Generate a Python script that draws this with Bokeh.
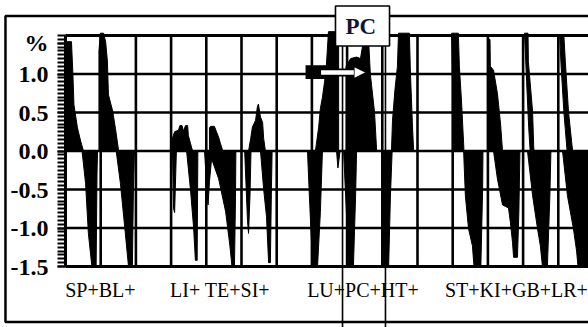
import numpy as np
from bokeh.plotting import figure
from bokeh.models import (Range1d, FixedTicker, LinearAxis, Label, Arrow, NormalHead)
from bokeh.embed import file_html
from bokeh.resources import INLINE

# ---------------- data ----------------
group_labels = ["SP+BL+", "LI+ TE+SI+", "LU+PC+HT+", "ST+KI+GB+LR+"]
group_centers = [9.9, 43.9, 84.5, 128.1]

y_ticks = [-1.5, -1.0, -0.5, 0.0, 0.5, 1.0, 1.4]
y_tick_labels = ["-1.5", "-1.0", "-0.5", "0.0", "0.5", "1.0", "%"]

grid_x = [10, 20, 30, 40, 50, 60, 70, 80, 90, 100, 110, 120, 130, 140]
grid_y = [-1.0, -0.5, 0.0, 0.5, 1.0]

# waveform lobes: outline points (x, %)
SP_pos = [(0.2, 0), (0.2, 1.42), (1.7, 1.42), (2.1, 1.0), (2.4, 0.6), (3.4, 0.3), (4.3, 0.13), (5.1, 0)]
SP_neg = [(4.7, 0), (5.7, -0.42), (6.5, -1.07), (7.5, -1.5), (8.7, -1.5), (8.95, -0.3), (9.1, 0)]
BL_pos = [(9.5, 0), (9.5, 1.3), (9.9, 1.53), (10.8, 1.53), (11.4, 1.42), (11.9, 1.17), (12.2, 0.73),
          (13.4, 0.52), (14.2, 0.29), (15.1, 0)]
BL_neg = [(14.4, 0), (15.6, -0.42), (17.0, -1.07), (17.9, -1.5), (19.0, -1.5), (19.3, -0.5), (19.6, 0)]

LI_pos = [(30.4, 0), (30.4, 0.17), (31.0, 0.25), (32.1, 0.27), (32.5, 0.33), (33.1, 0.33), (33.5, 0.26),
          (34.1, 0.33), (34.7, 0.33), (34.9, 0.2), (35.5, 0.1), (36.1, 0)]
LI_neg1 = [(30.4, 0), (30.7, -0.75), (31.0, -0.8), (31.5, 0)]
LI_neg = [(34.4, 0), (35.5, -0.5), (36.4, -1.0), (36.9, -1.42), (37.4, -1.42), (37.6, 0)]

TE_pos = [(40.9, 0), (40.9, 0.3), (41.2, 0.32), (42.3, 0.32), (42.9, 0.25), (43.5, 0.18), (44.0, 0.1), (44.7, 0)]
TE_neg = [(39.5, 0), (40.1, -0.45), (40.5, -0.7), (40.9, -0.4), (41.5, -0.1), (43.5, -0.36), (45.5, -0.79),
          (46.7, -1.23), (47.3, -1.5), (48.0, -1.5), (48.3, -0.6), (48.4, 0)]

SI_pos = [(52.0, 0), (52.6, 0.16), (53.1, 0.31), (54.0, 0.4), (54.5, 0.57), (54.8, 0.61), (55.4, 0.44),
          (56.0, 0.37), (56.3, 0.16), (56.8, 0)]
SI_neg1 = [(50.9, 0), (51.7, -0.9), (52.0, -1.07), (52.4, -0.6), (52.7, 0)]
SI_neg = [(55.4, 0), (56.3, -0.5), (57.1, -0.85), (57.7, -1.45), (58.2, -1.45), (58.5, -0.5), (58.7, 0)]

LU_pos = [(71.0, 0), (71.9, 0.3), (72.4, 0.55), (73.0, 0.7), (73.6, 0.9), (74.1, 1.1), (74.7, 1.55),
          (77.6, 1.55), (77.6, 0)]
LU_neg = [(68.75, 0), (69.3, -0.6), (70.2, -1.5), (71.6, -1.5), (72.4, -0.8), (73.0, 0)]
LU_neg2 = [(77.0, 0), (77.4, -0.22), (78.0, 0)]

PC_pos = [(79.7, 0), (79.7, 1.1), (81.0, 1.2), (82.7, 1.22), (83.8, 1.2), (84.7, 1.45), (86.1, 1.45),
          (86.6, 1.0), (87.8, 0.5), (88.4, 0)]
PC_neg = [(79.0, 0), (79.8, -0.8), (80.4, -1.5), (81.8, -1.5), (82.4, -0.6), (82.7, 0)]

HT_pos = [(92.6, 0), (92.9, 0.4), (93.6, 0.8), (94.3, 1.1), (94.6, 1.53), (97.7, 1.53), (98.0, 1.0),
          (98.6, 0.3), (98.9, 0)]
HT_neg = [(89.8, 0), (90.1, -0.8), (90.3, -1.5), (91.8, -1.5), (92.3, -0.6), (92.8, 0)]

ST_pos = [(110.3, 0), (109.7, 1.53), (111.6, 1.53), (111.9, 1.1), (112.5, 0.65), (113.1, 0.1), (113.2, 0)]
ST_neg = [(113.1, 0), (113.6, -0.58), (114.5, -1.01), (115.6, -1.23), (116.05, -1.5), (118.0, -1.5),
          (118.5, -0.5), (118.6, 0)]

KI_pos = [(120.1, 0), (120.1, 1.45), (120.6, 1.45), (120.7, 1.1), (121.6, 1.05), (122.7, 0.75),
          (123.6, 0.35), (124.15, 0)]
KI_neg = [(121.6, 0), (122.7, -0.36), (124.15, -0.7), (125.0, -0.72), (125.85, -0.74), (126.4, -0.93),
          (127.0, -1.19), (127.3, -1.38), (128.4, -1.38), (128.8, -0.8), (129.1, 0)]

GB_pos = [(132.0, 0), (131.6, 0.3), (131.0, 0.9), (130.4, 1.53), (131.4, 1.53), (131.5, 1.16),
          (132.7, 0.51), (133.0, 0.07), (133.1, 0)]
GB_neg = [(131.25, 0), (132.7, -0.58), (134.1, -1.01), (134.9, -1.23), (135.5, -1.5), (136.9, -1.5),
          (137.6, -0.6), (137.9, 0)]

LR_pos = [(142.5, 0), (141.6, 0.5), (140.8, 1.1), (140.4, 1.49), (141.6, 1.49), (142.0, 1.16),
          (142.9, 0.51), (143.9, 0.07), (144.1, 0)]
LR_neg = [(141.2, 0), (142.6, -0.58), (144.3, -1.01), (145.2, -1.3), (145.6, -1.5), (150.0, -1.5), (150.0, 0)]

lobes = [SP_pos, SP_neg, BL_pos, BL_neg, LI_pos, LI_neg1, LI_neg, TE_pos, TE_neg,
         SI_pos, SI_neg1, SI_neg, LU_pos, LU_neg, LU_neg2, PC_pos, PC_neg, HT_pos, HT_neg,
         ST_pos, ST_neg, KI_pos, KI_neg, GB_pos, GB_neg, LR_pos, LR_neg]

# PC marker lines (x positions)
pc_lines_x = [78.7, 90.9]

# ---------------- figure ----------------
SERIF = "Liberation Serif"
X0, X1 = -18.466, 148.58      # whole canvas in data units
Y0, Y1 = -2.292, 1.9545

p = figure(width=588, height=327, output_backend="svg", toolbar_location=None,
           x_range=Range1d(X0, X1), y_range=Range1d(Y0, Y1),
           x_axis_type=None, y_axis_type=None,
           min_border_left=0, min_border_right=0, min_border_top=0, min_border_bottom=0,
           background_fill_color="white", border_fill_color="white")
p.outline_line_color = None
p.grid.visible = False

# outer box
p.quad(left=[-17.05], right=[170], top=[1.753], bottom=[-2.221],
       fill_color=None, line_color="black", line_width=2.5)

# grid lines
p.segment(x0=grid_x, y0=[-1.5] * len(grid_x), x1=grid_x, y1=[1.5] * len(grid_x),
          line_color="black", line_width=2.6)
p.segment(x0=[0] * len(grid_y), y0=grid_y, x1=[160] * len(grid_y), y1=grid_y,
          line_color="black", line_width=2.6)

# waveform
xs = [[pt[0] for pt in lobe] for lobe in lobes]
ys = [[pt[1] for pt in lobe] for lobe in lobes]
p.patches(xs, ys, fill_color="black", line_color="black", line_width=1)

# plot frame (top, bottom, left)
p.segment(x0=[0, 0, 0], y0=[1.5, -1.5, -1.5], x1=[160, 160, 0], y1=[1.5, -1.5, 1.5],
          line_color="black", line_width=3)

# y axis as a ruler at x = 0
yax = LinearAxis(fixed_location=0)
yax.ticker = FixedTicker(ticks=y_ticks, minor_ticks=list(np.round(np.arange(-1.5, 1.5001, 0.05), 2)))
yax.major_label_overrides = {t: s for t, s in zip(y_ticks, y_tick_labels)}
yax.axis_line_color = None
yax.major_tick_line_color = "black"
yax.minor_tick_line_color = "black"
yax.major_tick_line_width = 2
yax.minor_tick_line_width = 2
yax.major_tick_out = 8
yax.major_tick_in = 0
yax.minor_tick_out = 8
yax.minor_tick_in = 0
yax.major_label_standoff = 9
yax.major_label_text_font = SERIF
yax.major_label_text_font_style = "bold"
yax.major_label_text_font_size = "24px"
yax.major_label_text_color = "black"
p.add_layout(yax, "left")

# x axis with group labels at y = -1.5
xax = LinearAxis(fixed_location=-1.5)
xax.ticker = FixedTicker(ticks=group_centers, minor_ticks=[])
xax.major_label_overrides = {c: s for c, s in zip(group_centers, group_labels)}
xax.axis_line_color = None
xax.major_tick_line_color = None
xax.minor_tick_line_color = None
xax.major_tick_out = 0
xax.major_tick_in = 0
xax.major_label_standoff = 12
xax.major_label_text_font = SERIF
xax.major_label_text_font_size = "20px"
xax.major_label_text_color = "black"
p.add_layout(xax, "below")

# PC marker lines
p.segment(x0=pc_lines_x, y0=[1.364, 1.364], x1=pc_lines_x, y1=[-2.4, -2.4],
          line_color="black", line_width=1.6)

# arrow (white arrow on black)
p.quad(left=[68.2], right=[75.9], top=[1.114], bottom=[0.935], fill_color="black", line_color=None)
p.add_layout(Arrow(end=None, x_start=72.4, y_start=1.02, x_end=83.8, y_end=1.02,
                   line_color="black", line_width=8))
p.add_layout(Arrow(end=NormalHead(size=13, fill_color="white", line_color="black", line_width=1.5),
                   x_start=72.6, y_start=1.02, x_end=85.6, y_end=1.02,
                   line_color="white", line_width=4.5))

# PC box and label
p.add_layout(Label(x=83.9, y=1.623, text="PC", text_align="center", text_baseline="middle",
                   text_font=SERIF, text_font_style="bold", text_font_size="23px",
                   text_color="#141432",
                   background_fill_color=None))
pc_box = p.quad(left=[76.7], right=[92.05], top=[1.883], bottom=[1.364],
                fill_color="white", line_color="black", line_width=1.6)

open("out.html", "w").write(file_html(p, INLINE))
